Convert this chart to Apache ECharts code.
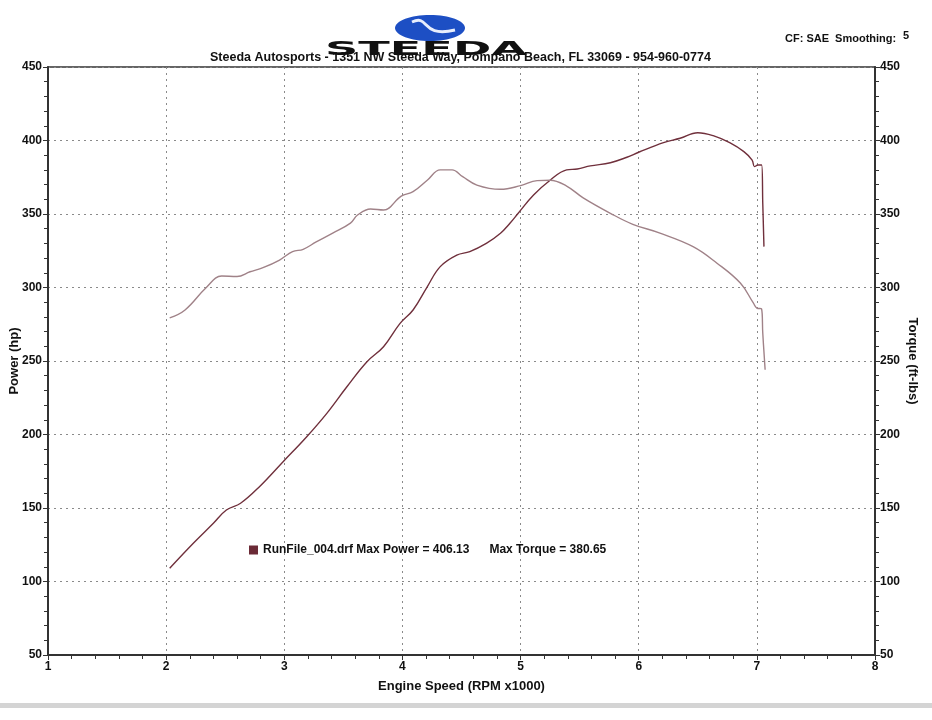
<!DOCTYPE html>
<html>
<head>
<meta charset="utf-8">
<script src="https://cdn.jsdelivr.net/npm/echarts@6/dist/echarts.min.js"></script>
<style>
html,body{margin:0;padding:0;background:#fff;}
#c{width:932px;height:720px;}
</style>
</head>
<body>
<div id="c"></div>
<script>
// Engine speed (RPM x1000) sample points
const powerRpm = [2.03,2.23,2.40,2.51,2.63,2.79,2.99,3.19,3.36,3.53,3.70,3.84,3.98,4.09,4.21,4.32,4.46,4.57,4.71,4.83,4.91,4.98,5.11,5.25,5.39,5.48,5.59,5.76,5.90,6.00,6.21,6.35,6.50,6.63,6.77,6.89,6.96,6.98,7.01,7.04,7.05,7.06];
const powerHp  = [109,126,139.6,148.6,153.2,164.5,181.5,198.5,214.4,232.5,249.5,259.7,275.6,284.7,300.5,314.2,322,324.4,330,336.9,343.7,350.5,362.9,373,380,380.6,382.7,384.9,388.6,392,398.5,401.5,405.3,403.3,398.5,392.4,386.7,382.2,383.3,383.3,357.3,327.8];

const torqueRpm = [2.03,2.16,2.34,2.47,2.60,2.71,2.82,2.96,3.07,3.16,3.27,3.41,3.56,3.62,3.73,3.84,3.99,4.09,4.21,4.32,4.42,4.51,4.63,4.83,5.00,5.14,5.25,5.39,5.53,5.76,5.95,6.18,6.46,6.66,6.86,6.97,7.00,7.04,7.05,7.07];
const torqueFtLb = [279.3,284.7,300,307.8,307.5,310.7,313.5,318.7,324.4,326,331,337,343.8,349.3,353.4,352.7,362.2,365.2,373,380,380,375.4,369.7,366.8,369.3,372.7,373,369,361,350.5,343,337,327.8,316.7,303,289.5,286,285.4,269,244];

const xTicks = {min:1, max:8, interval:1};
const yTicks = {min:50, max:450, interval:50};

const titleText = 'Steeda Autosports - 1351 NW Steeda Way, Pompano Beach, FL 33069 - 954-960-0774';
const cfText = 'CF: SAE  Smoothing:';
const smoothingVal = '5';
const legendText = 'RunFile_004.drf Max Power = 406.13      Max Torque = 380.65';

const powerData = powerRpm.map((r,i)=>[r,powerHp[i]]);
const torqueData = torqueRpm.map((r,i)=>[r,torqueFtLb[i]]);

const FONT = '"Liberation Sans", Arial, sans-serif';
const axisLabelStyle = {color:'#111', fontFamily:FONT, fontWeight:'bold', fontSize:12};
const splitDotted = {show:true, lineStyle:{color:'#8a8a8a', type:[2,4], width:1}};

const chart = echarts.init(document.getElementById('c'));
chart.setOption({
  animation:false,
  backgroundColor:'#fff',
  grid:{left:48, right:57, top:67, bottom:65, show:true, borderColor:'#333', borderWidth:1.5, containLabel:false, outerBoundsMode:'none'},
  legend:{
    left:244, top:539, itemWidth:9, itemHeight:9, icon:'rect',
    data:['Power'],
    formatter:()=>legendText,
    textStyle:{color:'#111', fontFamily:FONT, fontWeight:'bold', fontSize:12},
    itemGap:4
  },
  xAxis:{
    type:'value', min:xTicks.min, max:xTicks.max, interval:xTicks.interval,
    name:'Engine Speed (RPM x1000)', nameLocation:'middle', nameGap:25, nameMoveOverlap:false,
    nameTextStyle:{color:'#111', fontFamily:FONT, fontWeight:'bold', fontSize:13},
    axisLine:{lineStyle:{color:'#333', width:2}},
    axisTick:{show:true, length:5, lineStyle:{color:'#333'}},
    minorTick:{show:true, splitNumber:5, length:4, lineStyle:{color:'#333'}},
    axisLabel:Object.assign({margin:6}, axisLabelStyle),
    splitLine:splitDotted
  },
  yAxis:[
    {
      type:'value', min:yTicks.min, max:yTicks.max, interval:yTicks.interval,
      name:'Power (hp)', nameLocation:'middle', nameGap:27, nameRotate:90, nameMoveOverlap:false,
      nameTextStyle:{color:'#111', fontFamily:FONT, fontWeight:'bold', fontSize:13},
      axisLine:{show:true, lineStyle:{color:'#333', width:2}},
      axisTick:{show:true, length:5, lineStyle:{color:'#333'}},
      minorTick:{show:true, splitNumber:5, length:4, lineStyle:{color:'#333'}},
      axisLabel:Object.assign({margin:6}, axisLabelStyle),
      splitLine:splitDotted
    },
    {
      type:'value', position:'right', min:yTicks.min, max:yTicks.max, interval:yTicks.interval,
      name:'Torque (ft-lbs)', nameLocation:'middle', nameGap:31, nameRotate:-90, nameMoveOverlap:false,
      nameTextStyle:{color:'#111', fontFamily:FONT, fontWeight:'bold', fontSize:13},
      axisLine:{show:true, lineStyle:{color:'#333', width:2}},
      axisTick:{show:true, length:5, lineStyle:{color:'#333'}},
      minorTick:{show:true, splitNumber:5, length:4, lineStyle:{color:'#333'}},
      axisLabel:Object.assign({margin:5}, axisLabelStyle),
      splitLine:{show:false}
    }
  ],
  series:[
    {
      name:'Power', type:'line', xAxisIndex:0, yAxisIndex:0, data:powerData,
      showSymbol:false, smooth:0.4,
      lineStyle:{color:'#70303c', width:1.4}, itemStyle:{color:'#6b2a36'}
    },
    {
      name:'Torque', type:'line', xAxisIndex:0, yAxisIndex:1, data:torqueData,
      showSymbol:false, smooth:0.4,
      lineStyle:{color:'#a08288', width:1.4}, itemStyle:{color:'#9c7a7f'}
    }
  ],
  graphic:[
    {type:'ellipse', shape:{cx:430, cy:28, rx:35, ry:13}, style:{fill:'#1d4fc4'}},
    {type:'bezierCurve', shape:{x1:412, y1:22, cpx1:430, cpy1:14, cpx2:420, cpy2:38, x2:455, y2:30}, style:{stroke:'#e8eefc', lineWidth:3, fill:null}},
    {type:'text', left:325, top:40, scaleX:2.1, scaleY:0.9,
      style:{text:'STEEDA', font:'bold 22px "DejaVu Sans", sans-serif', fill:'#111'}},
    {type:'text', left:210, top:51, style:{text:titleText, font:'bold 12.5px "Liberation Sans", Arial, sans-serif', fill:'#111'}},
    {type:'text', left:785, top:33, style:{text:cfText, font:'bold 11px "Liberation Sans", Arial, sans-serif', fill:'#111'}},
    {type:'text', left:903, top:30, style:{text:smoothingVal, font:'bold 11px "Liberation Sans", Arial, sans-serif', fill:'#111'}},
    {type:'rect', shape:{x:0, y:703, width:932, height:5}, style:{fill:'#d4d4d4'}}
  ]
});
</script>
</body>
</html>
